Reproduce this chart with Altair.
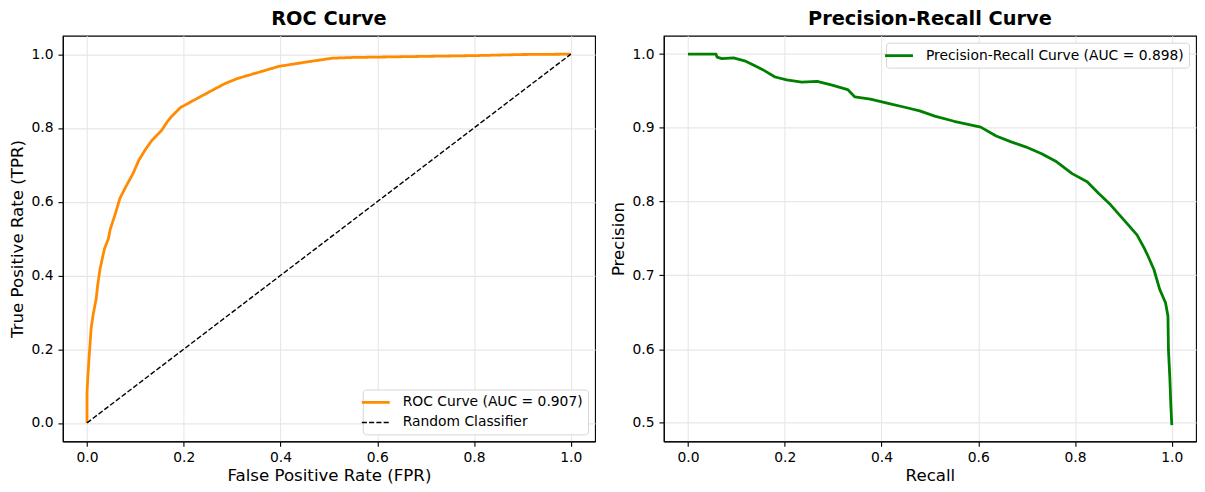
import altair as alt
import pandas as pd

FONT = "DejaVu Sans"

roc_label = "ROC Curve (AUC = 0.907)"
rand_label = "Random Classifier"
pr_label = "Precision-Recall Curve (AUC = 0.898)"

roc_fpr = [0.0, 0.0, 0.0016, 0.0047, 0.0086, 0.0126, 0.019, 0.022, 0.027, 0.036,
           0.044, 0.048, 0.058, 0.068, 0.08, 0.095, 0.107, 0.12, 0.134, 0.154,
           0.165, 0.174, 0.193, 0.225, 0.256, 0.285, 0.311, 0.358, 0.397, 0.46,
           0.507, 0.55, 0.6, 0.7, 0.8, 0.9, 1.0]
roc_tpr = [0.0, 0.08, 0.123, 0.185, 0.257, 0.293, 0.337, 0.373, 0.418, 0.472,
           0.4987, 0.525, 0.565, 0.609, 0.64, 0.676, 0.712, 0.74, 0.766, 0.793,
           0.815, 0.83, 0.855, 0.878, 0.9, 0.92, 0.934, 0.952, 0.967, 0.98,
           0.989, 0.991, 0.992, 0.994, 0.996, 0.999, 1.0]
diag_fpr = [0.0, 1.0]
diag_tpr = [0.0, 1.0]

pr_recall = [0.0, 0.058, 0.06, 0.07, 0.094, 0.117, 0.133, 0.157, 0.18, 0.204, 0.235,
             0.267, 0.298, 0.33, 0.345, 0.377, 0.416, 0.448, 0.479, 0.51, 0.55,
             0.605, 0.637, 0.668, 0.699, 0.731, 0.762, 0.794, 0.825, 0.849, 0.873,
             0.904, 0.928, 0.943, 0.951, 0.963, 0.975, 0.987, 0.992, 0.993, 0.996,
             0.998, 1.0]
pr_precision = [1.0, 1.0, 0.996, 0.994, 0.995, 0.991, 0.986, 0.978, 0.969, 0.965, 0.962,
                0.963, 0.958, 0.952, 0.942, 0.939, 0.933, 0.928, 0.923, 0.916, 0.909,
                0.901, 0.889, 0.881, 0.874, 0.865, 0.854, 0.838, 0.827, 0.811, 0.796,
                0.773, 0.755, 0.737, 0.726, 0.708, 0.681, 0.663, 0.645, 0.6, 0.56,
                0.524, 0.497]

unit_ticks = [0.0, 0.2, 0.4, 0.6, 0.8, 1.0]
pr_y_ticks = [0.5, 0.6, 0.7, 0.8, 0.9, 1.0]

roc_df = pd.DataFrame({
    "fpr": roc_fpr + diag_fpr,
    "tpr": roc_tpr + diag_tpr,
    "series": [roc_label] * len(roc_fpr) + [rand_label] * len(diag_fpr),
    "order": list(range(len(roc_fpr))) + list(range(len(diag_fpr))),
})
pr_df = pd.DataFrame({
    "recall": pr_recall,
    "precision": pr_precision,
    "series": [pr_label] * len(pr_recall),
    "order": list(range(len(pr_recall))),
})

W, H = 534, 407

legend_common = dict(
    title=None, offset=7, padding=4.5, cornerRadius=3, fillColor="white",
    strokeColor="#d6d6d6", symbolType="M-2,0H2", symbolSize=196,
    labelFont=FONT, labelFontSize=13.9, labelColor="black", rowPadding=4.6,
    labelOffset=18.5, labelLimit=0, symbolOffset=0,
)

roc_domain = [roc_label, rand_label]
roc = alt.Chart(roc_df).mark_line(strokeJoin="round").encode(
    x=alt.X("fpr:Q", scale=alt.Scale(domain=[-0.05, 1.05], nice=False, zero=False),
            axis=alt.Axis(title="False Positive Rate (FPR)", values=unit_ticks,
                          format=".1f", titlePadding=3, labelPadding=4.5)),
    y=alt.Y("tpr:Q", scale=alt.Scale(domain=[-0.05, 1.05], nice=False, zero=False),
            axis=alt.Axis(title="True Positive Rate (TPR)", values=unit_ticks,
                          format=".1f", titlePadding=5, labelPadding=4.9)),
    color=alt.Color("series:N",
                    scale=alt.Scale(domain=roc_domain, range=["#ff8c00", "#000000"]),
                    legend=alt.Legend(orient="bottom-right", **legend_common)),
    strokeDash=alt.StrokeDash("series:N",
                              scale=alt.Scale(domain=roc_domain, range=[[1, 0], [5.1, 2.2]]),
                              legend=alt.Legend(orient="bottom-right", **legend_common)),
    strokeWidth=alt.StrokeWidth("series:N",
                                scale=alt.Scale(domain=roc_domain, range=[2.8, 1.4]),
                                legend=alt.Legend(orient="bottom-right", **legend_common)),
    order="order:Q",
).properties(width=W, height=H, title="ROC Curve")

pr = alt.Chart(pr_df).mark_line(strokeJoin="round", strokeWidth=2.8).encode(
    x=alt.X("recall:Q", scale=alt.Scale(domain=[-0.05, 1.05], nice=False, zero=False),
            axis=alt.Axis(title="Recall", values=unit_ticks, format=".1f",
                          titlePadding=3, labelPadding=4.5)),
    y=alt.Y("precision:Q", scale=alt.Scale(domain=[0.475, 1.025], nice=False, zero=False),
            axis=alt.Axis(title="Precision", values=pr_y_ticks, format=".1f",
                          titlePadding=5, labelPadding=4.9)),
    color=alt.Color("series:N",
                    scale=alt.Scale(domain=[pr_label], range=["#008000"]),
                    legend=alt.Legend(orient="top-right", symbolStrokeWidth=2.8, **legend_common)),
    order="order:Q",
).properties(width=W, height=H, title="Precision-Recall Curve")

chart = alt.hconcat(roc, pr, spacing=13).resolve_scale(
    color="independent", strokeDash="independent", strokeWidth="independent"
).properties(
    padding={"left": 0, "top": 0, "right": 0, "bottom": 0}
).configure_view(
    stroke="black", strokeWidth=1.1
).configure_axis(
    domainColor="black", domainWidth=1.1, tickColor="black", tickWidth=1.1,
    tickSize=4.9, labelFont=FONT, labelFontSize=13.9,
    labelColor="black", titleFont=FONT, titleFontSize=16.7, titleFontWeight="normal",
    titleColor="black", gridColor="#e7e7e7", gridWidth=1.1,
).configure_title(
    font=FONT, fontSize=19.4, fontWeight="bold", anchor="middle", frame="group",
    offset=6, color="black",
)

chart.save("out.html", embed_options={"renderer": "svg", "actions": False})
